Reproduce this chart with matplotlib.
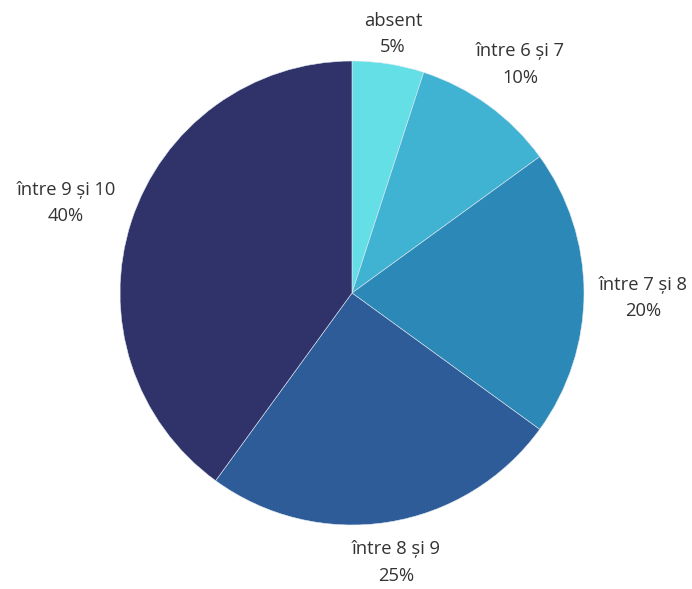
import matplotlib.pyplot as plt

plt.rcParams['font.family'] = ['Open Sans', 'DejaVu Sans']

# data
categories = ["absent", "între 6 și 7", "între 7 și 8", "între 8 și 9", "între 9 și 10"]
shares = [5, 10, 20, 25, 40]
colors = ["#63dfe5", "#40b3d3", "#2c89b7", "#2d5c98", "#2f3369"]

# label anchors in pie units (radius = 1, centre at 0,0)
label_pos = [(0.177, 1.116), (0.724, 0.985), (1.254, -0.022), (0.19, -1.162), (-1.233, 0.388)]

fig = plt.figure(figsize=(6.92, 5.89), dpi=100)
ax = fig.add_axes([0, 0, 1, 1])

ax.pie(shares, colors=colors, startangle=90, counterclock=False, radius=1,
       wedgeprops=dict(edgecolor="#dfe9f3", linewidth=0.4))

for name, val, (x, y) in zip(categories, shares, label_pos):
    ax.text(x, y + 0.057, name, ha="center", va="center", fontsize=13.2, color="#333333")
    ax.text(x, y - 0.057, f"{val}%", ha="center", va="center", fontsize=13.2, color="#333333")

ax.set_aspect("auto")
ax.set_xlim(-352 / 232, (692 - 352) / 232)
ax.set_ylim(-(589 - 293) / 232, 293 / 232)
ax.axis("off")

fig.savefig("out.png", dpi=100, facecolor="white")
